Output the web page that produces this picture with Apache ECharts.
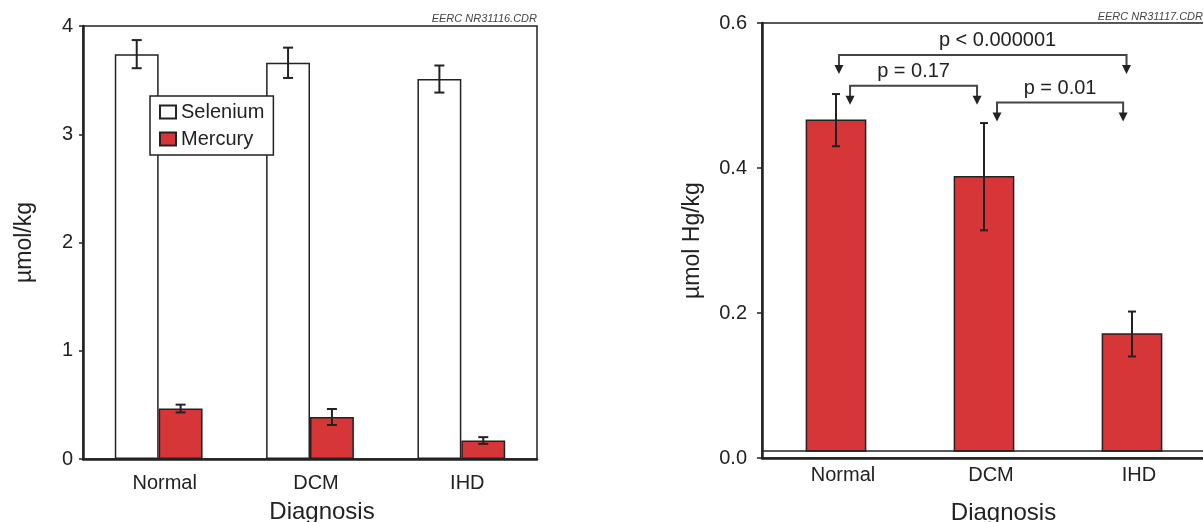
<!DOCTYPE html>
<html>
<head>
<meta charset="utf-8">
<script src="https://cdn.jsdelivr.net/npm/echarts@6/dist/echarts.min.js"></script>
<style>html,body{margin:0;padding:0;background:#fff;}#c{width:1203px;height:522px;}</style>
</head>
<body>
<div id="c"></div>
<script>
// ---- data ----
const categories = ['Normal', 'DCM', 'IHD'];
const seleniumMean = [3.74, 3.66, 3.51];
const seleniumErr = [0.13, 0.14, 0.125];
const mercuryMean = [0.466, 0.388, 0.171];
const mercuryErr = [0.036, 0.074, 0.031];
const leftTicks = [0, 1, 2, 3, 4];
const rightTicks = [0.0, 0.2, 0.4, 0.6];
const hgBaseline = 0.0095;
const comparisonFrom = [0, 0, 1];
const comparisonTo = [2, 1, 2];
const comparisonLevel = [0.556, 0.5135, 0.4905];
const comparisonText = ['p < 0.000001', 'p = 0.17', 'p = 0.01'];

// ---- layout / style constants ----
const FONT = 'Liberation Sans, Arial, sans-serif';
const INK = '#222';
const RED = '#D63638';
const bracketInset = [[0.02, -0.037], [0.095, -0.047], [0.088, -0.06]];
const bracketTextShift = [0.1, 0, 0];

const chart = echarts.init(document.getElementById('c'), null, {renderer: 'canvas'});

function errRender(meanArr, errArr, frac, cap) {
  return function (params, api) {
    const i = api.value(0);
    const bw = api.size([1, 0])[0];
    const hi = api.coord([i, meanArr[i] + errArr[i]]);
    const lo = api.coord([i, meanArr[i] - errArr[i]]);
    const x = hi[0] + frac * bw;
    const st = {stroke: INK, lineWidth: 2};
    return {type: 'group', children: [
      {type: 'line', shape: {x1: x, y1: hi[1], x2: x, y2: lo[1]}, style: st},
      {type: 'line', shape: {x1: x - cap / 2, y1: hi[1], x2: x + cap / 2, y2: hi[1]}, style: st},
      {type: 'line', shape: {x1: x - cap / 2, y1: lo[1], x2: x + cap / 2, y2: lo[1]}, style: st}
    ]};
  };
}

const catIdx = categories.map((c, i) => [i, 0]);

const option = {
  animation: false,
  textStyle: {fontFamily: FONT},
  graphic: [
    {type: 'text', right: 1203 - 537, top: 13, style: {text: 'EERC NR31116.CDR', font: 'italic 11px ' + FONT, fill: '#444', textAlign: 'right'}},
    {type: 'text', right: 0, top: 11, style: {text: 'EERC NR31117.CDR', font: 'italic 11px ' + FONT, fill: '#444', textAlign: 'right'}}
  ],
  legend: {
    data: ['Selenium', 'Mercury'],
    orient: 'vertical',
    left: 150, top: 96,
    padding: [6, 9, 6, 9],
    itemGap: 7,
    itemWidth: 16, itemHeight: 13,
    icon: 'rect',
    backgroundColor: '#fff',
    borderColor: INK, borderWidth: 1.5, borderRadius: 0,
    textStyle: {fontSize: 20, color: INK, fontFamily: FONT},
    selectedMode: false
  },
  grid: [
    {left: 83, top: 26, width: 454, height: 433, show: true, borderColor: INK, borderWidth: 1.5,
      backgroundColor: 'transparent', containLabel: false, outerBoundsMode: 'none'},
    {left: 762, top: 23, width: 444, height: 435, show: true, borderColor: INK, borderWidth: 1.5,
      backgroundColor: 'transparent', containLabel: false, outerBoundsMode: 'none'}
  ],
  xAxis: [
    {gridIndex: 0, type: 'category', data: categories,
      axisLine: {lineStyle: {color: INK, width: 2.5}},
      axisTick: {length: 5, lineStyle: {color: INK, width: 1.5}},
      axisLabel: {fontSize: 20, color: INK, margin: 14, padding: [0, 0, 0, 12]},
      name: 'Diagnosis', nameLocation: 'middle', nameGap: 41,
      nameTextStyle: {fontSize: 24, color: INK, padding: [0, 0, 0, 24]}},
    {gridIndex: 1, type: 'category', data: categories,
      axisLine: {lineStyle: {color: INK, width: 2.5}},
      axisTick: {inside: true, length: 6, lineStyle: {color: INK, width: 1.5}},
      axisLabel: {fontSize: 20, color: INK, margin: 7, padding: [0, 0, 0, 14]},
      name: 'Diagnosis', nameLocation: 'middle', nameGap: 43,
      nameTextStyle: {fontSize: 24, color: INK, padding: [0, 0, 0, 39]}}
  ],
  yAxis: [
    {gridIndex: 0, type: 'value', min: leftTicks[0], max: leftTicks[leftTicks.length - 1], interval: leftTicks[1] - leftTicks[0],
      axisLine: {show: true, lineStyle: {color: INK, width: 2.5}},
      axisTick: {show: true, length: 4, lineStyle: {color: INK, width: 1.5}},
      axisLabel: {fontSize: 20, color: INK, margin: 10},
      splitLine: {show: false},
      name: 'µmol/kg', nameLocation: 'middle', nameGap: 47, nameRotate: 90,
      nameTextStyle: {fontSize: 23, color: INK}},
    {gridIndex: 1, type: 'value', min: rightTicks[0], max: rightTicks[rightTicks.length - 1], interval: 0.2,
      axisLine: {show: true, lineStyle: {color: INK, width: 2.5}},
      axisTick: {show: true, length: 5, lineStyle: {color: INK, width: 1.5}},
      axisLabel: {fontSize: 20, color: INK, margin: 15, formatter: v => v.toFixed(1)},
      splitLine: {show: false},
      name: 'µmol Hg/kg', nameLocation: 'middle', nameGap: 58, nameRotate: 90,
      nameTextStyle: {fontSize: 23, color: INK}}
  ],
  series: [
    {name: 'Selenium', type: 'bar', xAxisIndex: 0, yAxisIndex: 0, data: seleniumMean,
      barGap: '0%', barCategoryGap: '42%',
      itemStyle: {color: '#fff', borderColor: INK, borderWidth: 1.5}},
    {name: 'Mercury', type: 'bar', xAxisIndex: 0, yAxisIndex: 0, data: mercuryMean,
      barGap: '0%', barCategoryGap: '42%',
      itemStyle: {color: RED, borderColor: INK, borderWidth: 1.5}},
    {type: 'custom', xAxisIndex: 0, yAxisIndex: 0, data: catIdx, z: 5,
      renderItem: errRender(seleniumMean, seleniumErr, -0.145, 10)},
    {type: 'custom', xAxisIndex: 0, yAxisIndex: 0, data: catIdx, z: 5,
      renderItem: errRender(mercuryMean, mercuryErr, 0.145, 10)},
    // right chart bars from the baseline line
    {name: 'Hg', type: 'custom', xAxisIndex: 1, yAxisIndex: 1,
      data: mercuryMean.map((v, i) => [i, v]),
      encode: {x: 0, y: 1},
      renderItem: function (params, api) {
        const i = api.value(0);
        const bw = api.size([1, 0])[0] * 0.4;
        const top = api.coord([i, api.value(1)]);
        const base = api.coord([i, hgBaseline]);
        return {type: 'rect', shape: {x: top[0] - bw / 2, y: top[1], width: bw, height: base[1] - top[1]},
          style: {fill: RED, stroke: INK, lineWidth: 1.5}};
      },
      markLine: {silent: true, symbol: 'none', label: {show: false},
        lineStyle: {color: INK, width: 1.5, type: 'solid'},
        data: [{yAxis: hgBaseline}]}
    },
    {type: 'custom', xAxisIndex: 1, yAxisIndex: 1, data: catIdx, z: 5,
      renderItem: errRender(mercuryMean, mercuryErr, 0, 8)},
    // significance brackets
    {type: 'custom', xAxisIndex: 1, yAxisIndex: 1, z: 6,
      data: comparisonLevel.map((lv, k) => [comparisonFrom[k], comparisonTo[k], lv, k]),
      encode: {x: 0, y: 2},
      renderItem: function (params, api) {
        const k = api.value(3);
        const bw = api.size([1, 0])[0];
        const a = api.coord([api.value(0), api.value(2)]);
        const b = api.coord([api.value(1), api.value(2)]);
        const x0 = a[0] + bracketInset[k][0] * bw;
        const x1 = b[0] + bracketInset[k][1] * bw;
        const y = a[1];
        const drop = 19, ah = 9, aw = 4.5;
        const st = {stroke: '#444', lineWidth: 2, fill: null};
        return {type: 'group', children: [
          {type: 'polyline', shape: {points: [[x0, y + drop - ah + 1], [x0, y], [x1, y], [x1, y + drop - ah + 1]]}, style: st},
          {type: 'polygon', shape: {points: [[x0 - aw, y + drop - ah], [x0 + aw, y + drop - ah], [x0, y + drop]]}, style: {fill: INK}},
          {type: 'polygon', shape: {points: [[x1 - aw, y + drop - ah], [x1 + aw, y + drop - ah], [x1, y + drop]]}, style: {fill: INK}},
          {type: 'text', style: {text: comparisonText[k], x: (x0 + x1) / 2 + bracketTextShift[k] * bw, y: y - 4,
            textAlign: 'center', textVerticalAlign: 'bottom', font: '20px ' + FONT, fill: INK}}
        ]};
      }
    }
  ]
};
chart.setOption(option);
</script>
</body>
</html>
